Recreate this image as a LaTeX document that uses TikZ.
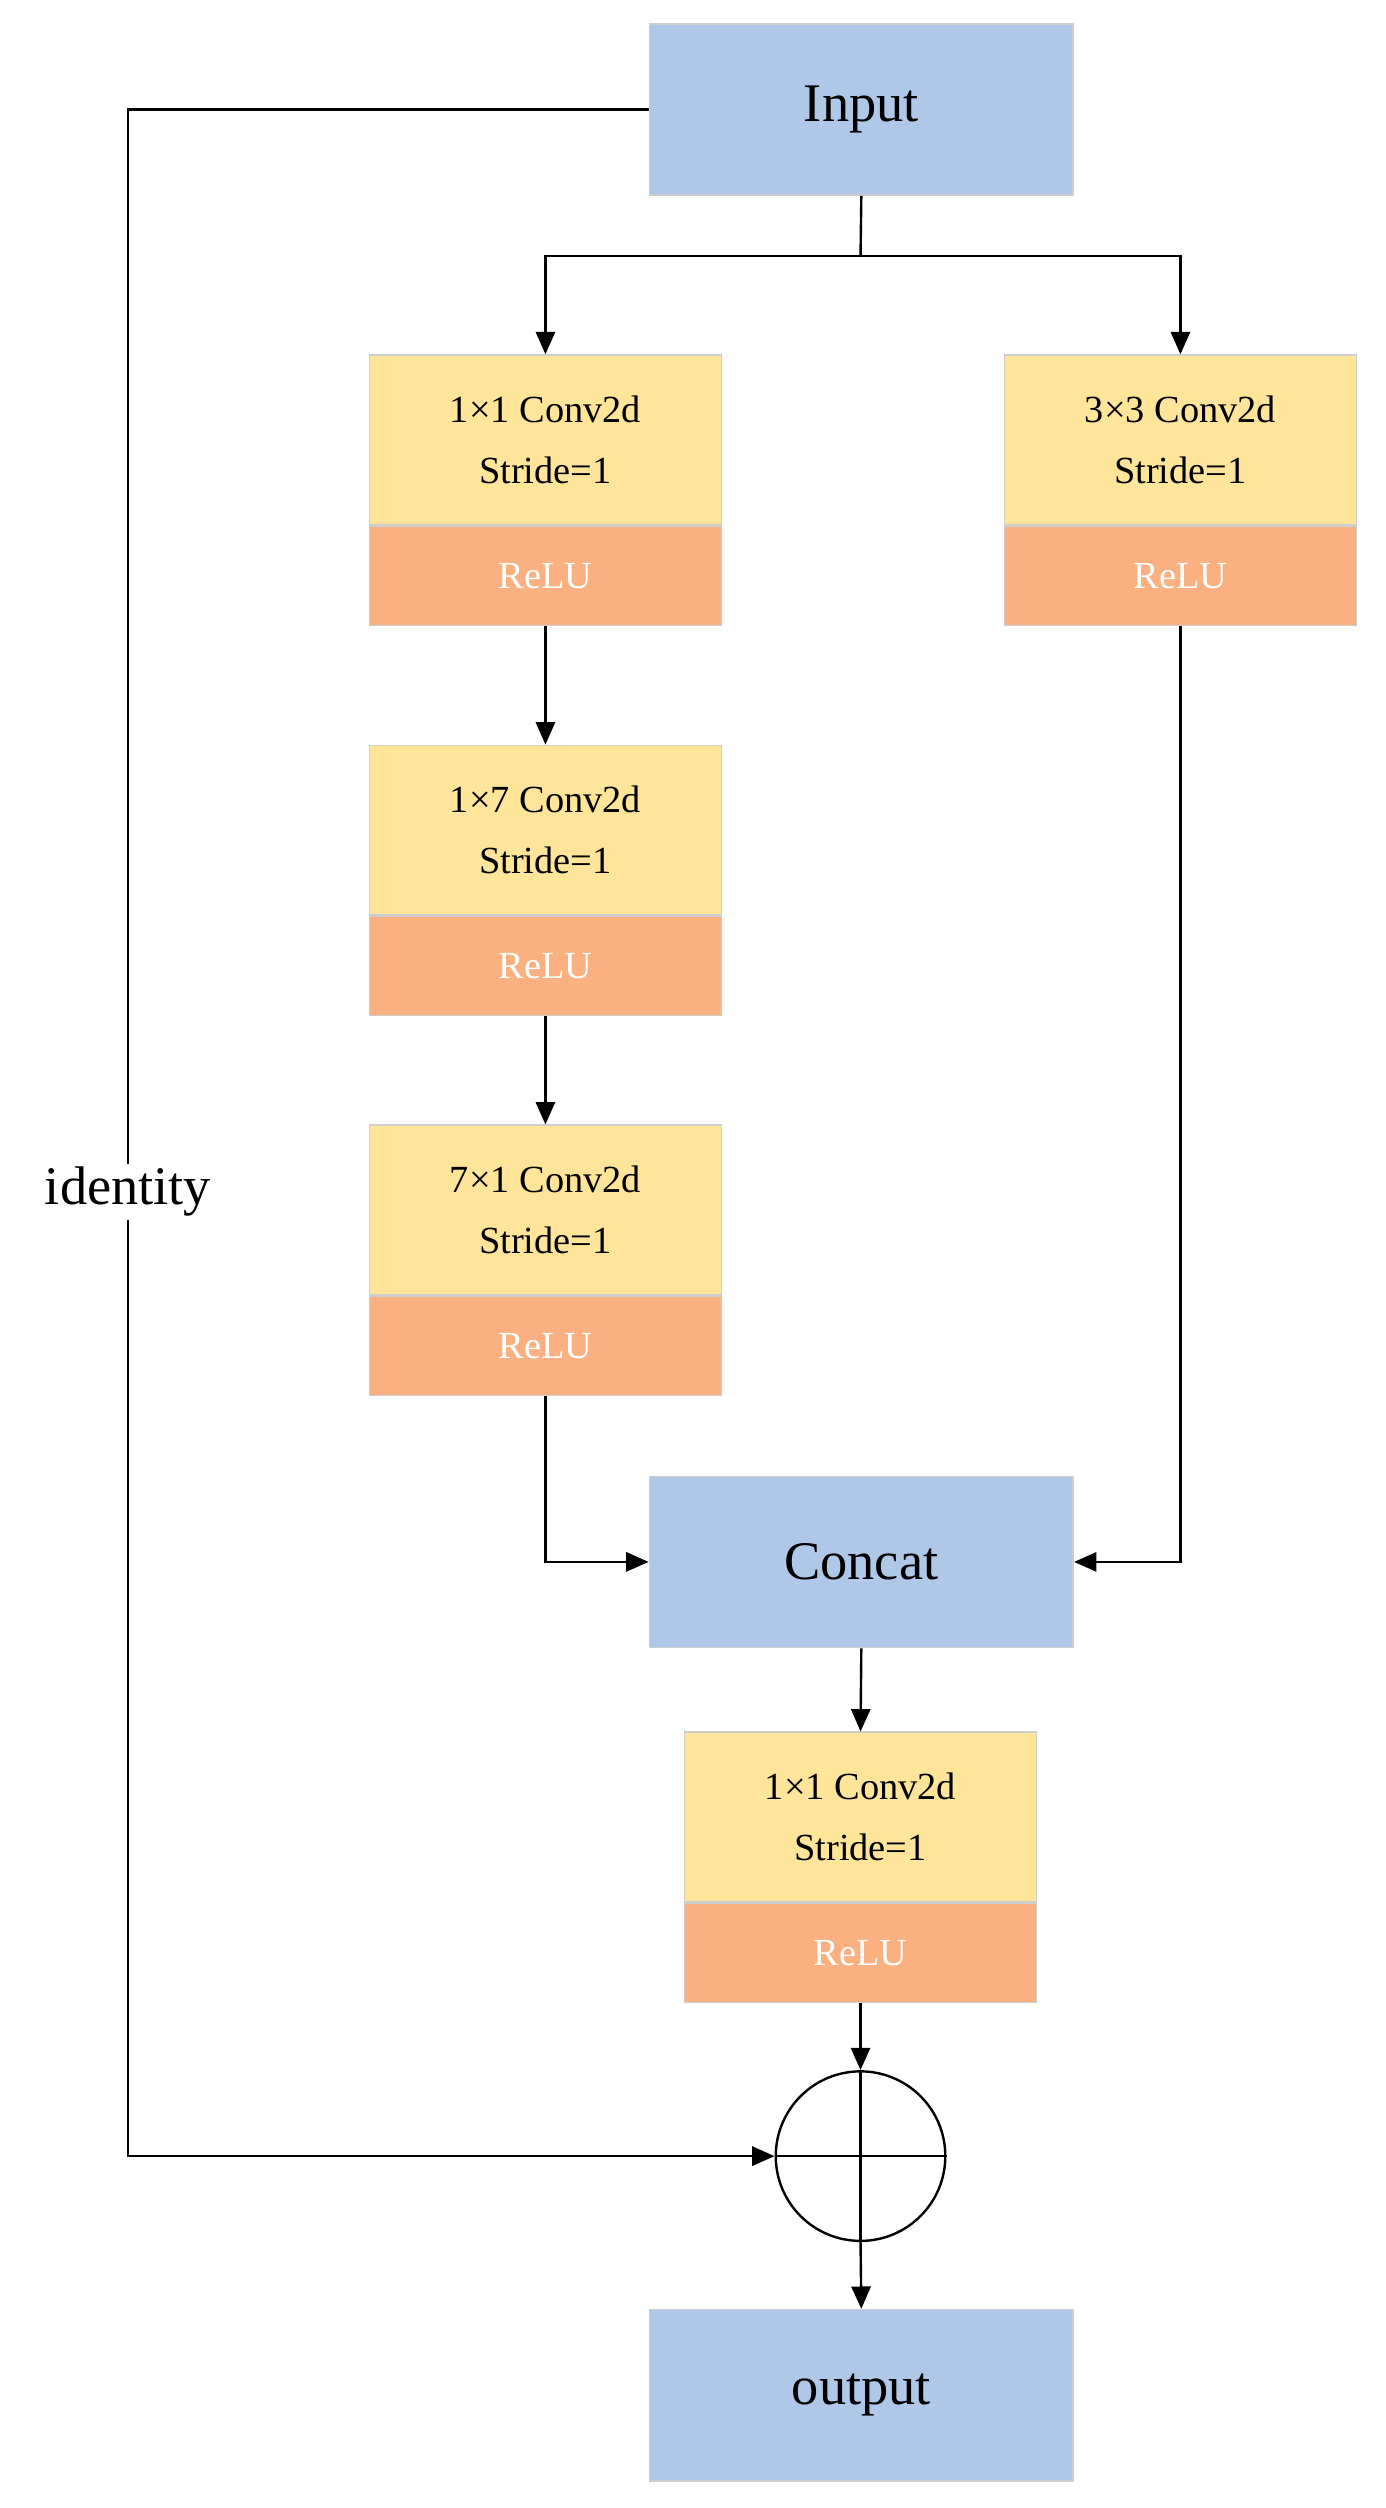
\documentclass[tikz,border=0pt]{standalone}
\usepackage{fontspec}
\setmainfont{Liberation Serif}
\usetikzlibrary{arrows.meta}
\definecolor{boxblue}{RGB}{176,200,232}
\definecolor{boxyellow}{RGB}{255,229,153}
\definecolor{boxorange}{RGB}{250,176,128}
\definecolor{boxedge}{RGB}{205,205,205}
\tikzset{every picture/.style={line width=1.5pt}}
\tikzset{
  blue box/.style={draw=boxedge,line width=1pt,fill=boxblue,minimum width=265pt,minimum height=107pt,inner sep=0pt,font=\fontsize{34}{40}\selectfont},
  conv box/.style={draw=boxedge,line width=1pt,fill=boxyellow,minimum width=220pt,minimum height=106pt,inner sep=0pt,align=center,font=\fontsize{24}{38}\selectfont},
  relu box/.style={draw=boxedge,line width=1pt,fill=boxorange,minimum width=220pt,minimum height=62pt,inner sep=0pt,text=white,font=\fontsize{24}{28}\selectfont},
  link/.style={-{Triangle[length=14pt,width=12pt]}}
}
\begin{document}
\begin{tikzpicture}[x=1pt,y=1pt,yscale=-1]
\useasboundingbox (0,0) rectangle (866,1568);

% blue blocks
\node[blue box] (input) at (538.5,68.5) {Input};
\node[blue box] (concat) at (538.5,976.5) {Concat};
\node[blue box] (output) at (538.5,1497.5) {output};

% conv blocks
\node[conv box] (convA) at (341,275) {1×1 Conv2d\\Stride=1};
\node[relu box, anchor=north] (reluA) at (convA.south) {ReLU};
\node[conv box] (convB) at (738,275) {3×3 Conv2d\\Stride=1};
\node[relu box, anchor=north] (reluB) at (convB.south) {ReLU};
\node[conv box] (convC) at (341,519) {1×7 Conv2d\\Stride=1};
\node[relu box, anchor=north] (reluC) at (convC.south) {ReLU};
\node[conv box] (convD) at (341,756.5) {7×1 Conv2d\\Stride=1};
\node[relu box, anchor=north] (reluD) at (convD.south) {ReLU};
\node[conv box] (convE) at (538,1136) {1×1 Conv2d\\Stride=1};
\node[relu box, anchor=north] (reluE) at (convE.south) {ReLU};

% sum
\node[draw,circle,minimum size=106pt,inner sep=0pt] (sum) at (538,1348) {};
\draw (sum.north) -- (sum.south) (sum.west) -- (sum.east);

% connectors
\coordinate (split) at (538,160);
\draw (input.south) -- (split);
\draw[link] (split) -| (convA.north);
\draw[link] (split) -| (convB.north);
\draw[link] (reluA.south) -- (convC.north);
\draw[link] (reluC.south) -- (convD.north);
\draw[link] (reluD.south) |- (concat.west);
\draw[link] (reluB.south) |- (concat.east);
\draw[link] (concat.south) -- (convE.north);
\draw[link] (reluE.south) -- (sum.north);
\draw[link] (sum.south) -- (output.north);

% identity path
\coordinate (idtop) at (80,68.5);
\draw[link] (input.west) -- (idtop) |- (sum.west);
\node[fill=white,inner sep=2pt,font=\fontsize{34}{40}\selectfont] (idlabel) at (80,745) {identity};
\end{tikzpicture}
\end{document}
